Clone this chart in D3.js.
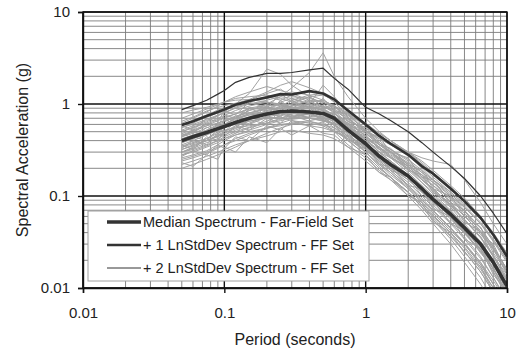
<!DOCTYPE html>
<html>
<head>
<meta charset="utf-8">
<script src="https://cdn.jsdelivr.net/npm/d3@7"></script>
<style>
  html, body { margin: 0; padding: 0; background: #fff; }
  svg { display: block; font-family: "Liberation Sans", Arial, sans-serif; }
</style>
</head>
<body>
<svg id="chart" width="523" height="354"></svg>
<script>
// periods (s) shared by every series
const periods = [0.05, 0.06, 0.075, 0.09, 0.1, 0.12, 0.15, 0.2, 0.25, 0.3, 0.4, 0.5, 0.6, 0.75,
                 1.0, 1.25, 1.5, 2.0, 2.5, 3.0, 4.0, 5.0, 6.5, 8.0, 10.0];

const median = [0.40, 0.44, 0.49, 0.54, 0.57, 0.63, 0.70, 0.78, 0.83, 0.84, 0.82, 0.79, 0.70, 0.52,
                0.37, 0.27, 0.22, 0.165, 0.12, 0.092, 0.063, 0.045, 0.030, 0.019, 0.0105];
const plusOne = [0.59, 0.65, 0.74, 0.82, 0.87, 0.98, 1.08, 1.18, 1.28, 1.27, 1.38, 1.30, 1.12, 0.85,
                 0.60, 0.45, 0.37, 0.28, 0.21, 0.175, 0.12, 0.088, 0.058, 0.038, 0.022];
const plusTwo = [0.87, 0.96, 1.10, 1.28, 1.40, 1.72, 1.95, 2.15, 2.15, 2.20, 2.35, 2.45, 1.90, 1.45,
                 0.92, 0.78, 0.66, 0.50, 0.38, 0.30, 0.21, 0.155, 0.10, 0.065, 0.039];

// individual far-field records
const records = [
  [0.52,0.58,0.66,0.75,0.80,0.92,1.05,1.20,1.10,1.25,1.05,0.95,0.80,0.55,0.42,0.30,0.26,0.20,0.14,0.11,0.075,0.050,0.032,0.020,0.012],
  [0.30,0.33,0.38,0.42,0.46,0.52,0.60,0.72,0.70,0.78,0.85,0.72,0.60,0.48,0.30,0.22,0.18,0.12,0.085,0.065,0.042,0.030,0.019,0.012,0.007],
  [0.62,0.70,0.82,0.95,1.05,1.20,1.35,1.55,1.40,1.30,1.10,0.90,0.75,0.52,0.33,0.24,0.19,0.13,0.09,0.07,0.045,0.030,0.018,0.011,0.006],
  [0.25,0.27,0.30,0.34,0.36,0.42,0.48,0.55,0.62,0.68,0.72,0.80,0.78,0.65,0.55,0.45,0.38,0.30,0.22,0.18,0.12,0.085,0.058,0.038,0.024],
  [0.45,0.50,0.58,0.62,0.66,0.70,0.85,0.95,1.00,0.92,0.88,0.95,0.82,0.58,0.40,0.32,0.26,0.18,0.13,0.10,0.068,0.047,0.030,0.019,0.011],
  [0.35,0.38,0.42,0.48,0.52,0.55,0.58,0.62,0.70,0.75,0.65,0.60,0.52,0.40,0.28,0.20,0.16,0.11,0.080,0.060,0.040,0.028,0.017,0.010,0.0055],
  [0.40,0.45,0.52,0.58,0.60,0.70,0.78,0.82,0.95,1.10,1.25,1.30,1.05,0.72,0.48,0.36,0.30,0.22,0.16,0.13,0.085,0.060,0.040,0.026,0.015],
  [0.22,0.24,0.27,0.30,0.32,0.36,0.40,0.45,0.50,0.52,0.48,0.46,0.42,0.34,0.24,0.18,0.15,0.11,0.075,0.055,0.036,0.025,0.015,0.009,0.005],
  [0.55,0.62,0.72,0.80,0.85,0.98,1.10,1.30,1.45,1.20,1.15,1.05,0.95,0.70,0.50,0.38,0.30,0.22,0.17,0.13,0.095,0.068,0.045,0.028,0.016],
  [0.32,0.36,0.40,0.46,0.50,0.58,0.65,0.70,0.72,0.66,0.62,0.58,0.50,0.36,0.26,0.19,0.15,0.10,0.070,0.050,0.030,0.019,0.011,0.0065,0.0035],
  [0.48,0.52,0.60,0.68,0.72,0.78,0.90,0.98,0.95,1.00,1.05,1.10,0.95,0.75,0.60,0.48,0.40,0.30,0.24,0.19,0.13,0.095,0.060,0.040,0.024],
  [0.28,0.31,0.35,0.40,0.44,0.50,0.56,0.65,0.75,0.88,0.95,0.85,0.72,0.55,0.38,0.28,0.22,0.16,0.12,0.090,0.058,0.040,0.026,0.016,0.009],
  [0.70,0.78,0.88,0.98,1.05,1.15,1.20,1.25,1.15,1.05,0.90,0.72,0.58,0.42,0.30,0.22,0.17,0.12,0.085,0.062,0.040,0.027,0.016,0.010,0.0055],
  [0.38,0.42,0.47,0.52,0.55,0.62,0.72,0.85,0.92,0.95,1.00,1.60,1.20,0.80,0.52,0.38,0.30,0.21,0.15,0.12,0.078,0.055,0.036,0.022,0.012],
  [0.42,0.46,0.52,0.60,0.64,0.72,0.85,1.00,1.20,1.50,2.20,3.60,2.00,1.20,0.70,0.50,0.40,0.28,0.20,0.15,0.10,0.070,0.045,0.028,0.016],
  [0.50,0.56,0.64,0.74,0.82,1.00,1.30,2.40,2.10,1.60,1.20,1.00,0.85,0.60,0.42,0.30,0.24,0.17,0.12,0.090,0.060,0.040,0.025,0.015,0.008],
  [0.26,0.28,0.31,0.36,0.40,0.46,0.52,0.60,0.66,0.70,0.78,0.72,0.65,0.52,0.42,0.34,0.28,0.21,0.17,0.14,0.10,0.075,0.050,0.033,0.020],
  [0.58,0.64,0.74,0.82,0.88,0.95,1.00,1.05,1.00,0.98,0.92,0.85,0.78,0.62,0.45,0.34,0.27,0.19,0.14,0.105,0.070,0.048,0.030,0.018,0.010],
  [0.34,0.37,0.42,0.50,0.55,0.66,0.80,0.90,0.85,0.80,0.70,0.65,0.62,0.50,0.35,0.25,0.20,0.15,0.11,0.080,0.052,0.036,0.022,0.013,0.007],
  [0.44,0.48,0.55,0.62,0.66,0.74,0.80,0.88,1.05,1.15,1.00,0.92,0.85,0.68,0.52,0.42,0.36,0.28,0.21,0.16,0.11,0.078,0.052,0.034,0.020],
  [0.20,0.22,0.25,0.28,0.30,0.34,0.40,0.48,0.55,0.60,0.64,0.60,0.55,0.45,0.33,0.25,0.20,0.14,0.10,0.076,0.050,0.034,0.021,0.013,0.0075],
  [0.60,0.66,0.76,0.86,0.90,1.00,1.12,1.35,1.60,1.75,1.50,1.30,1.05,0.75,0.52,0.40,0.32,0.24,0.18,0.14,0.092,0.065,0.042,0.027,0.016],
  [0.36,0.40,0.46,0.52,0.56,0.60,0.65,0.72,0.78,0.80,0.76,0.70,0.66,0.56,0.44,0.36,0.30,0.23,0.18,0.15,0.11,0.082,0.056,0.037,0.022],
  [0.50,0.55,0.62,0.70,0.75,0.85,0.95,1.05,0.98,0.88,0.78,0.70,0.60,0.44,0.30,0.21,0.16,0.11,0.076,0.055,0.034,0.022,0.013,0.0075,0.004],
  [0.30,0.34,0.40,0.44,0.48,0.56,0.68,0.80,0.90,1.00,1.20,1.25,1.10,0.85,0.62,0.48,0.40,0.30,0.23,0.18,0.125,0.090,0.060,0.038,0.022],
  [0.40,0.44,0.50,0.56,0.60,0.68,0.76,0.80,0.78,0.72,0.70,0.68,0.60,0.46,0.34,0.26,0.21,0.15,0.11,0.085,0.056,0.039,0.025,0.015,0.0085],
  [0.65,0.72,0.84,0.92,0.96,1.02,1.10,1.15,1.25,1.35,1.25,1.10,0.95,0.70,0.48,0.36,0.29,0.21,0.155,0.12,0.080,0.056,0.036,0.023,0.013],
  [0.24,0.26,0.29,0.33,0.36,0.40,0.46,0.54,0.60,0.62,0.58,0.55,0.50,0.42,0.32,0.24,0.19,0.13,0.095,0.070,0.045,0.031,0.019,0.011,0.006],
  [0.46,0.51,0.58,0.66,0.70,0.78,0.88,0.92,0.88,0.95,1.10,1.05,0.90,0.66,0.44,0.33,0.27,0.20,0.15,0.115,0.078,0.055,0.035,0.022,0.0125],
  [0.32,0.35,0.40,0.45,0.48,0.54,0.62,0.74,0.80,0.76,0.72,0.74,0.70,0.60,0.48,0.38,0.32,0.25,0.19,0.15,0.105,0.076,0.050,0.032,0.019],
  [0.56,0.60,0.68,0.76,0.80,0.90,1.00,1.10,1.20,1.15,1.00,0.88,0.75,0.56,0.40,0.30,0.24,0.17,0.125,0.095,0.062,0.043,0.027,0.016,0.009],
  [0.38,0.42,0.48,0.55,0.60,0.70,0.76,0.78,0.74,0.82,0.90,0.80,0.66,0.48,0.32,0.23,0.18,0.125,0.09,0.068,0.044,0.030,0.018,0.011,0.006],
  [0.28,0.30,0.34,0.38,0.42,0.48,0.55,0.62,0.68,0.72,0.80,0.90,0.95,0.80,0.58,0.46,0.38,0.29,0.22,0.17,0.12,0.088,0.058,0.037,0.021],
  [0.80,0.86,0.92,1.00,1.05,1.10,1.12,1.05,0.95,0.90,0.80,0.68,0.55,0.40,0.28,0.20,0.16,0.11,0.080,0.058,0.037,0.025,0.015,0.009,0.005],
  [0.30,0.32,0.36,0.40,0.42,0.46,0.50,0.55,0.58,0.62,0.66,0.70,0.72,0.62,0.50,0.42,0.36,0.30,0.26,0.24,0.22,0.15,0.085,0.050,0.030],
  [0.33,0.40,0.36,0.48,0.44,0.58,0.52,0.70,0.62,0.82,0.70,0.66,0.74,0.50,0.40,0.26,0.24,0.16,0.13,0.085,0.066,0.040,0.030,0.016,0.010],
  [0.48,0.42,0.56,0.50,0.68,0.60,0.90,0.75,1.10,0.85,0.95,0.78,0.62,0.55,0.34,0.30,0.21,0.17,0.11,0.095,0.058,0.045,0.026,0.019,0.009],
  [0.27,0.31,0.28,0.36,0.33,0.44,0.40,0.58,0.52,0.66,0.58,0.64,0.50,0.44,0.30,0.27,0.19,0.16,0.10,0.088,0.050,0.042,0.024,0.017,0.008],
  [0.58,0.52,0.70,0.64,0.84,0.76,1.05,0.90,1.30,1.05,1.20,0.92,0.98,0.64,0.56,0.36,0.33,0.22,0.19,0.12,0.10,0.060,0.046,0.024,0.015],
  [0.38,0.44,0.40,0.54,0.50,0.64,0.60,0.82,0.72,0.98,0.80,0.88,0.72,0.60,0.46,0.32,0.31,0.19,0.17,0.11,0.085,0.052,0.041,0.022,0.014],
  [0.23,0.21,0.28,0.25,0.34,0.30,0.44,0.38,0.54,0.46,0.58,0.48,0.46,0.34,0.28,0.18,0.16,0.10,0.085,0.052,0.040,0.024,0.017,0.009,0.005],
  [0.44,0.50,0.46,0.60,0.56,0.74,0.66,0.95,0.82,1.10,0.90,1.15,0.85,0.78,0.50,0.44,0.30,0.26,0.16,0.15,0.085,0.070,0.040,0.030,0.015],
  [0.36,0.32,0.44,0.40,0.52,0.48,0.68,0.60,0.85,0.72,0.80,0.66,0.60,0.40,0.36,0.22,0.21,0.13,0.12,0.072,0.060,0.034,0.027,0.014,0.009],
  [0.52,0.48,0.62,0.58,0.76,0.70,0.92,0.84,1.05,0.90,0.98,0.84,0.72,0.58,0.42,0.34,0.26,0.21,0.15,0.12,0.080,0.062,0.038,0.027,0.014]
];

const decades = [0.01, 0.1, 1, 10];
const tickLabels = ["0.01", "0.1", "1", "10"];
const legendLabels = ["Median Spectrum - Far-Field Set",
                      "+ 1 LnStdDev Spectrum - FF Set",
                      "+ 2 LnStdDev Spectrum - FF Set"];

// layout
const plotLeft = 83, plotRight = 507, plotTop = 12, plotBottom = 288;

const svg = d3.select("#chart");
const x = d3.scaleLog().domain([0.01, 10]).range([plotLeft, plotRight]);
const y = d3.scaleLog().domain([0.01, 10]).range([plotBottom, plotTop]);

// minor values 2..9 within each decade
const minors = [];
decades.slice(0, 3).forEach(d => {
    for (let k = 2; k <= 9; k++) minors.push(d * k);
});

const grid = svg.append("g");
grid.selectAll(".vminor").data(minors).join("line")
    .attr("x1", d => x(d)).attr("x2", d => x(d))
    .attr("y1", plotTop).attr("y2", plotBottom)
    .attr("stroke", "#7a7a7a").attr("stroke-width", 0.9);
grid.selectAll(".hminor").data(minors).join("line")
    .attr("y1", d => y(d)).attr("y2", d => y(d))
    .attr("x1", plotLeft).attr("x2", plotRight)
    .attr("stroke", "#7a7a7a").attr("stroke-width", 0.9);

grid.selectAll(".vmajor").data(decades).join("line")
    .attr("x1", d => x(d)).attr("x2", d => x(d))
    .attr("y1", plotTop).attr("y2", plotBottom)
    .attr("stroke", "#111").attr("stroke-width", 1.4);
grid.selectAll(".hmajor").data(decades).join("line")
    .attr("y1", d => y(d)).attr("y2", d => y(d))
    .attr("x1", plotLeft).attr("x2", plotRight)
    .attr("stroke", "#111").attr("stroke-width", 1.4);

// data lines
svg.append("clipPath").attr("id", "plotClip")
    .append("rect").attr("x", plotLeft).attr("y", plotTop)
    .attr("width", plotRight - plotLeft).attr("height", plotBottom - plotTop);

const line = d3.line()
    .x((d, i) => x(periods[i]))
    .y(d => y(d));

const plot = svg.append("g").attr("clip-path", "url(#plotClip)");

plot.selectAll(".record").data(records).join("path")
    .attr("class", "record")
    .attr("d", line)
    .attr("fill", "none")
    .attr("stroke", "#a2a2a2")
    .attr("stroke-width", 1);

const stats = [
    { values: plusTwo, width: 1.2 },
    { values: plusOne, width: 2.6 },
    { values: median, width: 3.6 }
];
plot.selectAll(".stat").data(stats).join("path")
    .attr("class", "stat")
    .attr("d", d => line(d.values))
    .attr("fill", "none")
    .attr("stroke", "#333")
    .attr("stroke-width", d => d.width)
    .attr("stroke-linejoin", "round");

// axes
const xAxis = d3.axisBottom(x).tickValues(decades)
    .tickFormat((d, i) => tickLabels[i]).tickSize(5).tickPadding(14);
const yAxis = d3.axisLeft(y).tickValues(decades)
    .tickFormat((d, i) => tickLabels[i]).tickSize(5).tickPadding(8);

const gx = svg.append("g").attr("transform", `translate(0,${plotBottom})`).call(xAxis);
const gy = svg.append("g").attr("transform", `translate(${plotLeft},0)`).call(yAxis);
[gx, gy].forEach(g => {
    g.select(".domain").attr("stroke", "#111").attr("stroke-width", 1.4);
    g.selectAll(".tick line").attr("stroke", "#111").attr("stroke-width", 1.4);
    g.selectAll(".tick text").attr("fill", "#222")
        .style("font-size", "15px").style("font-family", "'Liberation Sans', Arial, sans-serif");
});

// frame
svg.append("rect").attr("x", plotLeft).attr("y", plotTop)
    .attr("width", plotRight - plotLeft).attr("height", plotBottom - plotTop)
    .attr("fill", "none").attr("stroke", "#111").attr("stroke-width", 1.4);

// titles
svg.append("text")
    .attr("x", (plotLeft + plotRight) / 2).attr("y", 345)
    .attr("text-anchor", "middle")
    .attr("fill", "#222").style("font-size", "16px")
    .text("Period (seconds)");

svg.append("text")
    .attr("transform", `translate(28,${(plotTop + plotBottom) / 2}) rotate(-90)`)
    .attr("text-anchor", "middle")
    .attr("fill", "#222").style("font-size", "16px")
    .text("Spectral Acceleration (g)");

// legend
const legend = svg.append("g");
legend.append("rect")
    .attr("x", 88).attr("y", 211).attr("width", 281).attr("height", 70)
    .attr("fill", "#fff").attr("stroke", "#a0a0a0").attr("stroke-width", 1);

const legendWidths = [3.6, 2.6, 1.0];
const rows = legend.selectAll(".row").data(legendLabels).join("g")
    .attr("transform", (d, i) => `translate(0,${222 + i * 23})`);
rows.append("line")
    .attr("x1", 107).attr("x2", 141).attr("y1", 0).attr("y2", 0)
    .attr("stroke", "#333").attr("stroke-width", (d, i) => legendWidths[i]);
rows.append("text")
    .attr("x", 143).attr("y", 5)
    .attr("fill", "#222").style("font-size", "14.5px")
    .text(d => d);
</script>
</body>
</html>
